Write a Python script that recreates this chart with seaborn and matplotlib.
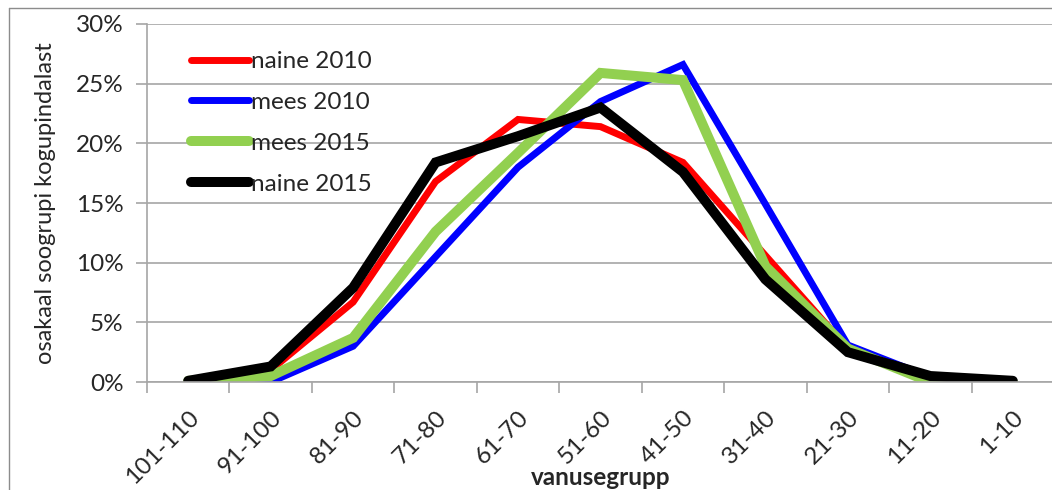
import matplotlib
matplotlib.use("Agg")
import matplotlib.pyplot as plt
import matplotlib.transforms as mtransforms
import seaborn as sns
import pandas as pd
import numpy as np
from matplotlib.lines import Line2D
from matplotlib.ticker import FuncFormatter, FixedLocator

categories = ["101-110", "91-100", "81-90", "71-80", "61-70", "51-60",
              "41-50", "31-40", "21-30", "11-20", "1-10"]
naine_2010 = [0.0, 1.0, 6.7, 16.8, 22.0, 21.4, 18.4, 10.6, 2.8, 0.5, 0.1]
mees_2010 = [0.0, 0.0, 3.0, 10.5, 18.0, 23.5, 26.6, 14.9, 3.1, 0.4, 0.1]
mees_2015 = [0.1, 0.5, 3.7, 12.6, 19.2, 25.9, 25.3, 9.7, 2.8, 0.0, 0.0]
naine_2015 = [0.1, 1.3, 7.9, 18.4, 20.6, 23.0, 17.6, 8.6, 2.5, 0.5, 0.1]

series_names = ["naine 2010", "mees 2010", "mees 2015", "naine 2015"]
series_vals = [naine_2010, mees_2010, mees_2015, naine_2015]
colors = ["#FF0000", "#0000FF", "#92D050", "#000000"]
widths = [5.0, 5.0, 7.2, 7.2]

sns.set_theme(style="white")
plt.rcParams["font.family"] = ["Lato", "DejaVu Sans"]

rows = []
for name, vals in zip(series_names, series_vals):
    for i, (c, v) in enumerate(zip(categories, vals)):
        rows.append({"pos": i, "grupp": c, "osakaal": v, "seeria": name})
df = pd.DataFrame(rows)

fig = plt.figure(figsize=(10.52, 4.90), dpi=100)
ax = fig.add_axes([147 / 1052, 1 - 382 / 490, (1054 - 147) / 1052, (382 - 24) / 490])

for name, col, lw in zip(series_names, colors, widths):
    sub = df[df["seeria"] == name]
    sns.lineplot(data=sub, x="pos", y="osakaal", ax=ax, color=col, linewidth=lw,
                 label=name, sort=False, solid_capstyle="round", solid_joinstyle="miter")

FS = 17.5
ax.set_xlim(-0.5, len(categories) - 0.5)
ax.set_ylim(0, 30)
ax.set_yticks(np.arange(0, 31, 5))
ax.yaxis.set_major_formatter(FuncFormatter(lambda v, p: f"{int(v)}%"))
ax.yaxis.grid(True, color="#A6A6A6", linewidth=1.2)
ax.xaxis.grid(False)

ax.set_xticks(range(len(categories)))
ax.set_xticklabels(categories, rotation=45, ha="right", rotation_mode="anchor", fontsize=FS)
offset = mtransforms.ScaledTranslation(7 / 100, 0, fig.dpi_scale_trans)
for lab in ax.get_xticklabels():
    lab.set_transform(lab.get_transform() + offset)
ax.xaxis.set_minor_locator(FixedLocator(np.arange(-0.5, len(categories), 1.0)))
ax.tick_params(axis="x", which="major", length=0, pad=18)
ax.tick_params(axis="x", which="minor", length=8, color="#A6A6A6", width=1.2, direction="out", bottom=True)
ax.tick_params(axis="y", which="major", length=8, color="#A6A6A6", width=1.2, direction="out", left=True, labelsize=FS, pad=9)

for s in ["top", "right"]:
    ax.spines[s].set_visible(False)
for s in ["left", "bottom"]:
    ax.spines[s].set_color("#A6A6A6")
    ax.spines[s].set_linewidth(1.2)

ax.set_xlabel("")
ax.set_ylabel("osakaal soogrupi kogupindalast", fontsize=17, labelpad=14)
fig.text(601 / 1052, 1 - 485 / 490, "vanusegrupp", fontsize=17.5, fontweight="bold",
         ha="center", va="baseline")

leg = ax.legend(loc="upper left", bbox_to_anchor=(191 / 1052, 1 - 51 / 490),
                bbox_transform=fig.transFigure, frameon=False, fontsize=FS,
                handlelength=2.4, handletextpad=0.05, labelspacing=0.82,
                borderaxespad=0, borderpad=0)
for line in leg.get_lines():
    line.set_solid_capstyle("round")

bx = 8.5 / 1052
by = 1 - 8.5 / 490
fig.add_artist(Line2D([bx, 1.0], [by, by], transform=fig.transFigure, color="#8C8C8C", linewidth=1.0))
fig.add_artist(Line2D([bx, bx], [0.0, by], transform=fig.transFigure, color="#8C8C8C", linewidth=1.0))

fig.savefig("out.png", dpi=100)
